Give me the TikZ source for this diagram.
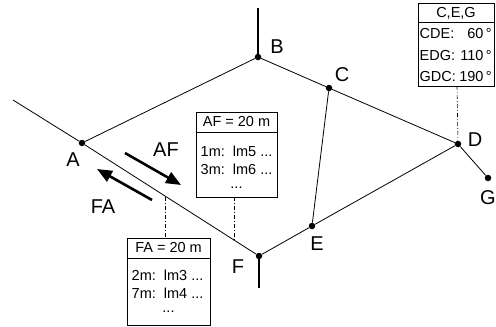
\documentclass[tikz,border=0pt]{standalone}
\usepackage{fontspec}
\setmainfont{Liberation Sans}
\usetikzlibrary{arrows.meta}
\begin{document}
\begin{tikzpicture}[x=1pt,y=-1pt,
  pt/.style={circle,fill,inner sep=0,minimum size=6.5pt},
  lbl/.style={font=\fontsize{20}{22}\selectfont, inner sep=0},
  edge/.style={line width=0.8pt},
  stub/.style={line width=1.8pt},
  leader/.style={line width=0.6pt, dash pattern=on 4pt off 2pt on 1pt off 2pt},
  infobox/.style={draw, line width=0.8pt, inner sep=0, anchor=north west},
  btxt/.style={font=\fontsize{14.5}{16}\selectfont, inner sep=0},
  bigarrow/.style={line width=2.6pt, -{Triangle[length=15pt,width=12pt]}}
]
\useasboundingbox (0,0) rectangle (496,327);

% network points
\node[pt] (A) at (82,143) {};
\node[pt] (B) at (258,57) {};
\node[pt] (C) at (329,88) {};
\node[pt] (D) at (458,144) {};
\node[pt] (E) at (312,226) {};
\node[pt] (F) at (259,256) {};
\node[pt] (G) at (488,178) {};
\coordinate (Aout) at (13,100);
\coordinate (Bout) at (258,8);
\coordinate (Fout) at (259,288);

% edges
\draw[edge] (Aout) -- (A);
\draw[edge] (A) -- (B);
\draw[edge] (B) -- (C);
\draw[edge] (C) -- (D);
\draw[edge] (C) -- (E);
\draw[edge] (E) -- (D);
\draw[edge] (D) -- (G);
\draw[edge] (A) -- (F);
\draw[edge] (F) -- (E);
\draw[stub] (B) -- (Bout);
\draw[stub] (F) -- (Fout);

% point labels
\node[lbl] (lA) at (73,160) {A};
\node[lbl] (lB) at (277,47) {B};
\node[lbl] (lC) at (342,75) {C};
\node[lbl] (lD) at (475,140) {D};
\node[lbl] (lE) at (317,244) {E};
\node[lbl] (lF) at (238,267) {F};
\node[lbl] (lG) at (488,198) {G};

% direction arrows
\coordinate (afs) at (125,153);
\coordinate (aft) at (181,185);
\coordinate (fas) at (152,200);
\coordinate (fat) at (97,169);
\draw[bigarrow] (afs) -- (aft);
\draw[bigarrow] (fas) -- (fat);
\node[lbl] (lAF) at (166,150) {AF};
\node[lbl] (lFA) at (103,207) {FA};

% AF box
\node[infobox, minimum width=81pt, minimum height=85pt] (afb) at (196,112) {};
\draw[edge] ([yshift=-20pt]afb.north west) -- ([yshift=-20pt]afb.north east);
\node[btxt] (afh) at (236.5,122) {AF = 20 m};
\node[btxt, anchor=west] (af1) at (200.5,151) {1m:\ \ lm5 ...};
\node[btxt, anchor=west] (af2) at (200.5,169) {3m:\ \ lm6 ...};
\node[btxt] (af3) at (236.5,188) {...};

% FA box
\node[infobox, minimum width=83pt, minimum height=87pt] (fab) at (127,238) {};
\draw[edge] ([yshift=-20pt]fab.north west) -- ([yshift=-20pt]fab.north east);
\node[btxt] (fah) at (168.5,248) {FA = 20 m};
\node[btxt, anchor=west] (fa1) at (131.5,275) {2m:\ \ lm3 ...};
\node[btxt, anchor=west] (fa2) at (131.5,293) {7m:\ \ lm4 ...};
\node[btxt] (fa3) at (168.5,312) {...};

% C,E,G box
\node[infobox, minimum width=76pt, minimum height=83pt] (cegb) at (418,3) {};
\draw[edge] ([yshift=-19pt]cegb.north west) -- ([yshift=-19pt]cegb.north east);
\node[btxt] (cegh) at (456,13) {C,E,G};
\node[btxt, anchor=west] (ceg1) at (419.5,34) {\makebox[72pt][l]{CDE:\hfill 60\,°}};
\node[btxt, anchor=west] (ceg2) at (419.5,56) {\makebox[72pt][l]{EDG:\hfill 110\,°}};
\node[btxt, anchor=west] (ceg3) at (419.5,77) {\makebox[72pt][l]{GDC:\hfill 190\,°}};

% leaders
\coordinate (aftop) at (234,197);
\coordinate (afbot) at (234,240);
\coordinate (fatop) at (165,197);
\coordinate (fabot) at (165,238);
\coordinate (cegbot) at (457,86);
\draw[leader] (aftop) -- (afbot);
\draw[leader] (fatop) -- (fabot);
\draw[leader] (cegbot) -- (D);
\end{tikzpicture}
\end{document}
